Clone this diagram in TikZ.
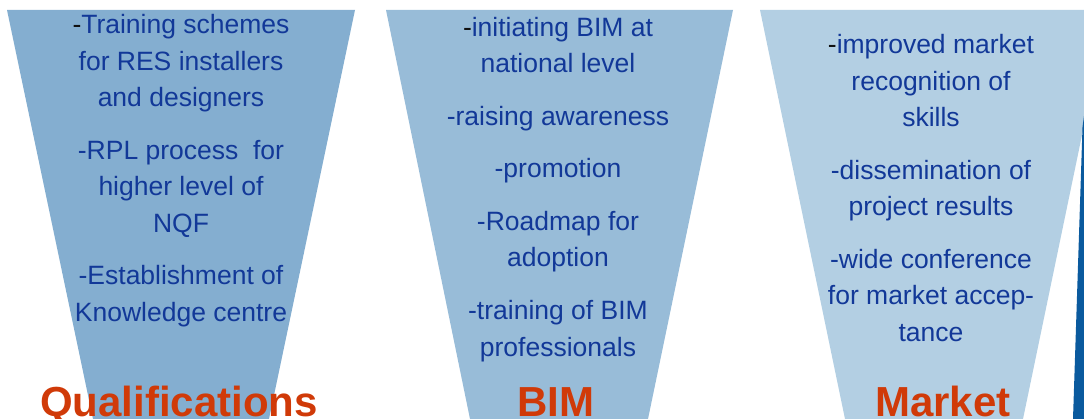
\documentclass[tikz,border=0pt]{standalone}
\usepackage{fontspec}
\setmainfont{Liberation Sans}
\definecolor{trapA}{RGB}{132,174,208}
\definecolor{trapB}{RGB}{152,188,216}
\definecolor{trapC}{RGB}{179,207,227}
\definecolor{txtblue}{RGB}{18,56,152}
\definecolor{lblred}{RGB}{208,58,8}
\definecolor{edgeblue}{RGB}{10,90,158}
\definecolor{dashblack}{RGB}{16,16,16}
\tikzset{
  itemtxt/.style={anchor=base, inner sep=0pt, text=txtblue,
    font=\fontsize{26.5}{36.5}\selectfont},
  lbltxt/.style={anchor=base, inner sep=0pt, text=lblred,
    font=\fontsize{42}{48}\selectfont\bfseries},
}
\newcommand{\fd}{\textcolor{dashblack}{-}}
\begin{document}
\begin{tikzpicture}[x=1pt,y=-1pt]
\useasboundingbox (0,0) rectangle (1084,419);
\clip (0,0) rectangle (1084,419);
% funnels
\fill[trapA] (7,10) -- (355,10) -- (269,419) -- (93,419) -- cycle;
\fill[trapB] (386,10) -- (733,10) -- (648,419) -- (470,419) -- cycle;
\fill[trapC] (760,10) -- (1108,10) -- (1023,419) -- (845,419) -- cycle;
% dark edge at right
\fill[edgeblue] (1084,116) -- (1082.5,127) -- (1073,419) -- (1084,419) -- cycle;
% Qualifications
\node[itemtxt] (q1) at (181,34) {\fd Training schemes};
\node[itemtxt] (q2) at (181,70.5) {for RES installers};
\node[itemtxt] (q3) at (181,107) {and designers};
\node[itemtxt] (q4) at (181,159.5) {-RPL process\ \ for};
\node[itemtxt] (q5) at (181,196) {higher level of};
\node[itemtxt] (q6) at (181,232.5) {NQF};
\node[itemtxt] (q7) at (181,285) {-Establishment of};
\node[itemtxt] (q8) at (181,321.5) {Knowledge centre};
\node[lbltxt] (qlab) at (179,417) {Qualifications};
% BIM
\node[itemtxt] (b1) at (558,36.5) {\fd initiating BIM at};
\node[itemtxt] (b2) at (558,73) {national level};
\node[itemtxt] (b3) at (558,125.5) {-raising awareness};
\node[itemtxt] (b4) at (558,178) {-promotion};
\node[itemtxt] (b5) at (558,230.5) {-Roadmap for};
\node[itemtxt] (b6) at (558,267) {adoption};
\node[itemtxt] (b7) at (558,319.5) {-training of BIM};
\node[itemtxt] (b8) at (558,356) {professionals};
\node[lbltxt] (blab) at (556,417) {BIM};
% Market
\node[itemtxt] (m1) at (931,54) {\fd improved market};
\node[itemtxt] (m2) at (931,90.5) {recognition of};
\node[itemtxt] (m3) at (931,127) {skills};
\node[itemtxt] (m4) at (931,179.5) {-dissemination of};
\node[itemtxt] (m5) at (931,216) {project results};
\node[itemtxt] (m6) at (931,268.5) {-wide conference};
\node[itemtxt] (m7) at (931,305) {for market accep-};
\node[itemtxt] (m8) at (931,341.5) {tance};
\node[lbltxt] (mlab) at (943,417) {Market};
\end{tikzpicture}
\end{document}
